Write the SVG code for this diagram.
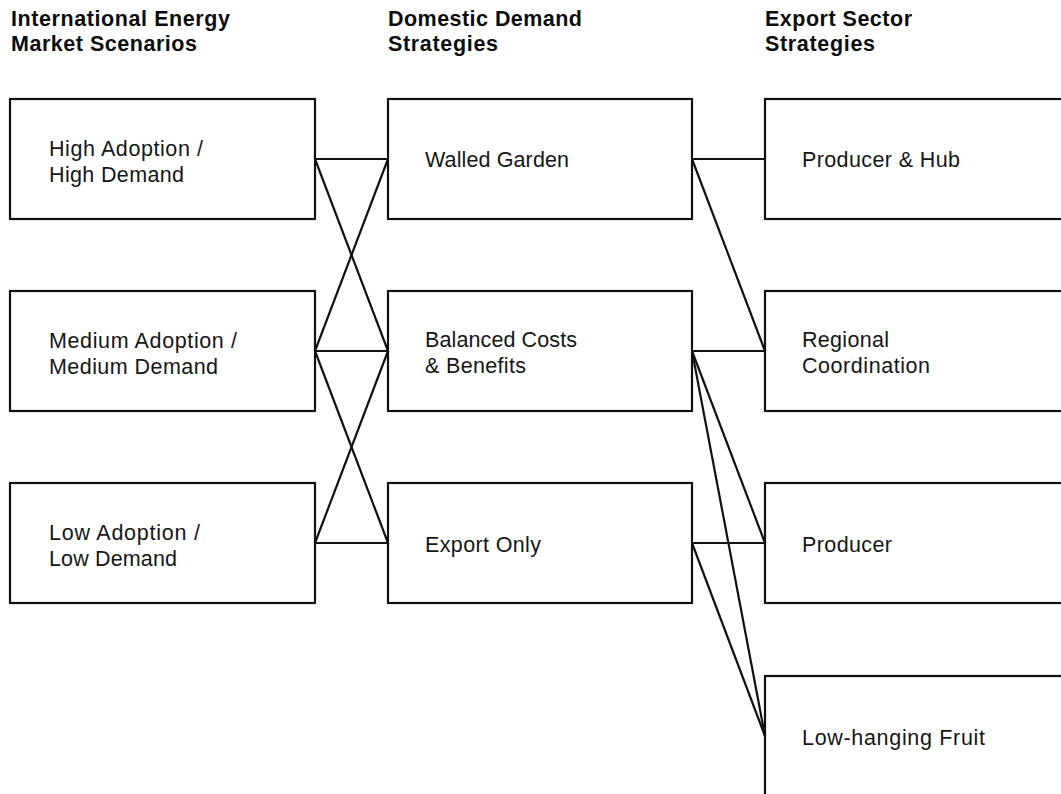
<svg xmlns="http://www.w3.org/2000/svg" width="1061" height="794" viewBox="0 0 1061 794">
<style>
.bg{fill:#ffffff}
.box{fill:#ffffff;stroke:#111111;stroke-width:2.2}
.lbl{font-family:"Liberation Sans",Arial,sans-serif;font-size:21.5px;fill:#161616}
.hdr{font-family:"Liberation Sans",Arial,sans-serif;font-size:21.5px;font-weight:bold;fill:#0d0d0d}
.conn line{stroke:#111111;stroke-width:2.2;fill:none}
</style>
<rect class="bg" x="0" y="0" width="1061" height="794"/>
<g id="headers">
<text class="hdr" x="11" y="26" textLength="219" lengthAdjust="spacing">International Energy</text>
<text class="hdr" x="11" y="51" textLength="186" lengthAdjust="spacing">Market Scenarios</text>
<text class="hdr" x="388" y="26" textLength="194" lengthAdjust="spacing">Domestic Demand</text>
<text class="hdr" x="388" y="51" textLength="110" lengthAdjust="spacing">Strategies</text>
<text class="hdr" x="765" y="26" textLength="147" lengthAdjust="spacing">Export Sector</text>
<text class="hdr" x="765" y="51" textLength="110" lengthAdjust="spacing">Strategies</text>
</g>
<g id="connectors" class="conn">
<line x1="315" y1="159" x2="388" y2="159"/>
<line x1="315" y1="159" x2="388" y2="351"/>
<line x1="315" y1="351" x2="388" y2="159"/>
<line x1="315" y1="351" x2="388" y2="351"/>
<line x1="315" y1="351" x2="388" y2="543"/>
<line x1="315" y1="543" x2="388" y2="351"/>
<line x1="315" y1="543" x2="388" y2="543"/>
<line x1="692" y1="159" x2="765" y2="159"/>
<line x1="692" y1="159" x2="765" y2="351"/>
<line x1="692" y1="351" x2="765" y2="351"/>
<line x1="692" y1="351" x2="765" y2="543"/>
<line x1="692" y1="351" x2="765" y2="736"/>
<line x1="692" y1="543" x2="765" y2="543"/>
<line x1="692" y1="543" x2="765" y2="736"/>
</g>
<g id="node-high">
<rect class="box" x="10" y="99" width="305" height="120"/>
<text class="lbl" x="49" y="156" textLength="154" lengthAdjust="spacing">High Adoption /</text>
<text class="lbl" x="49" y="182" textLength="135" lengthAdjust="spacing">High Demand</text>
</g>
<g id="node-medium">
<rect class="box" x="10" y="291" width="305" height="120"/>
<text class="lbl" x="49" y="348" textLength="188" lengthAdjust="spacing">Medium Adoption /</text>
<text class="lbl" x="49" y="374" textLength="169" lengthAdjust="spacing">Medium Demand</text>
</g>
<g id="node-low">
<rect class="box" x="10" y="483" width="305" height="120"/>
<text class="lbl" x="49" y="540" textLength="151" lengthAdjust="spacing">Low Adoption /</text>
<text class="lbl" x="49" y="566" textLength="128" lengthAdjust="spacing">Low Demand</text>
</g>
<g id="node-walled">
<rect class="box" x="388" y="99" width="304" height="120"/>
<text class="lbl" x="425" y="167" textLength="144" lengthAdjust="spacing">Walled Garden</text>
</g>
<g id="node-balanced">
<rect class="box" x="388" y="291" width="304" height="120"/>
<text class="lbl" x="425" y="347" textLength="152" lengthAdjust="spacing">Balanced Costs</text>
<text class="lbl" x="425" y="373" textLength="101" lengthAdjust="spacing">&amp; Benefits</text>
</g>
<g id="node-export">
<rect class="box" x="388" y="483" width="304" height="120"/>
<text class="lbl" x="425" y="552" textLength="116" lengthAdjust="spacing">Export Only</text>
</g>
<g id="node-producer-hub">
<rect class="box" x="765" y="99" width="310" height="120"/>
<text class="lbl" x="802" y="167" textLength="158" lengthAdjust="spacing">Producer &amp; Hub</text>
</g>
<g id="node-regional">
<rect class="box" x="765" y="291" width="310" height="120"/>
<text class="lbl" x="802" y="347" textLength="87" lengthAdjust="spacing">Regional</text>
<text class="lbl" x="802" y="373" textLength="128" lengthAdjust="spacing">Coordination</text>
</g>
<g id="node-producer">
<rect class="box" x="765" y="483" width="310" height="120"/>
<text class="lbl" x="802" y="552" textLength="90" lengthAdjust="spacing">Producer</text>
</g>
<g id="node-lowhanging">
<rect class="box" x="765" y="676" width="310" height="130"/>
<text class="lbl" x="802" y="745" textLength="183" lengthAdjust="spacing">Low-hanging Fruit</text>
</g>
</svg>
